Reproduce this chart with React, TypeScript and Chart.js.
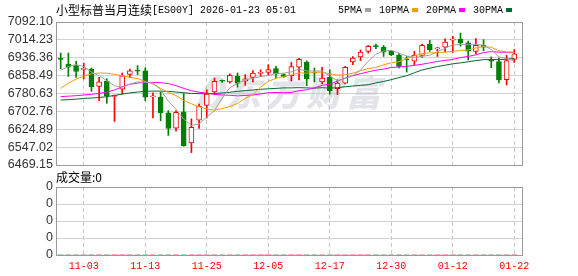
import { useEffect, useRef } from "react";
import { Chart, registerables } from "chart.js";

Chart.register(...registerables);

// ---------------- data ----------------
const dates = [
  "10-29", "10-30", "10-31", "11-03", "11-04", "11-05", "11-06", "11-07", "11-10", "11-11",
  "11-12", "11-13", "11-14", "11-17", "11-18", "11-19", "11-20", "11-21", "11-24", "11-25",
  "11-26", "11-27", "11-28", "12-01", "12-02", "12-03", "12-04", "12-05", "12-08", "12-09",
  "12-10", "12-11", "12-12", "12-15", "12-16", "12-17", "12-18", "12-19", "12-22", "12-23",
  "12-24", "12-26", "12-29", "12-30", "12-31", "01-02", "01-05", "01-06", "01-07", "01-08",
  "01-09", "01-12", "01-13", "01-14", "01-15", "01-16", "01-19", "01-20", "01-21", "01-22",
];

const tickDates = ["11-03", "11-13", "11-25", "12-05", "12-17", "12-30", "01-12", "01-22"];

const yTickLabels = [
  "7092.10", "7014.23", "6936.36", "6858.49", "6780.63",
  "6702.76", "6624.89", "6547.02", "6469.15",
];

const volTickLabels = ["0", "0", "0", "0", "0"];

const opens = [
  6932, 6909, 6902, 6886, 6887, 6812, 6835, 6768, 6799, 6864,
  6882, 6879, 6766, 6765, 6696, 6630, 6701, 6565, 6664, 6729,
  6787, 6836, 6831, 6855, 6834, 6851, 6868, 6873, 6889, 6863,
  6858, 6895, 6916, 6871, 6831, 6851, 6802, 6826, 6918, 6940,
  6964, 6987, 6982, 6964, 6947, 6929, 6921, 6947, 6996, 6975,
  6982, 7013, 7018, 7001, 6964, 6991, 6925, 6920, 6841, 6929,
];
const highs = [
  6957, 6957, 6921, 6913, 6892, 6851, 6845, 6774, 6870, 6887,
  6902, 6892, 6783, 6787, 6706, 6706, 6780, 6670, 6735, 6797,
  6848, 6839, 6866, 6870, 6863, 6880, 6884, 6906, 6899, 6867,
  6916, 6934, 6923, 6892, 6895, 6884, 6841, 6899, 6942, 6970,
  6990, 6996, 6990, 6967, 6957, 6942, 6964, 6996, 7012, 6982,
  7019, 7030, 7044, 7009, 7020, 7015, 6940, 6935, 6947, 6972,
];
const lows = [
  6889, 6855, 6851, 6844, 6790, 6749, 6738, 6659, 6778, 6850,
  6863, 6749, 6674, 6662, 6598, 6616, 6551, 6523, 6628, 6674,
  6776, 6829, 6826, 6808, 6816, 6831, 6855, 6860, 6848, 6851,
  6835, 6840, 6815, 6831, 6822, 6778, 6776, 6822, 6906, 6924,
  6957, 6976, 6942, 6945, 6892, 6874, 6906, 6938, 6964, 6942,
  6961, 6960, 6987, 6927, 6953, 6967, 6893, 6827, 6818, 6916,
];
const closes = [
  6929, 6895, 6877, 6889, 6810, 6831, 6771, 6771, 6858, 6879,
  6878, 6765, 6770, 6696, 6628, 6699, 6553, 6633, 6725, 6778,
  6834, 6834, 6860, 6826, 6845, 6870, 6871, 6885, 6867, 6854,
  6898, 6929, 6845, 6869, 6848, 6793, 6826, 6895, 6935, 6961,
  6986, 6985, 6961, 6950, 6899, 6927, 6947, 6990, 6972, 6977,
  7005, 7016, 7001, 6965, 6991, 6982, 6922, 6840, 6924, 6953,
];

const ma5 = [
  6882, 6898, 6907, 6898, 6874, 6858, 6836, 6814, 6808, 6822,
  6831, 6830, 6826, 6798, 6747, 6712, 6669, 6642, 6648, 6678,
  6705, 6761, 6806, 6826, 6840, 6847, 6854, 6859, 6868, 6869,
  6875, 6887, 6879, 6879, 6878, 6857, 6836, 6846, 6859, 6882,
  6921, 6952, 6966, 6969, 6956, 6944, 6937, 6943, 6947, 6963,
  6978, 6992, 6994, 6993, 6996, 6991, 6972, 6940, 6932, 6924,
];
const ma10 = [
  6803, 6825, 6843, 6856, 6866, 6870, 6869, 6864, 6858, 6851,
  6846, 6833, 6822, 6803, 6785, 6772, 6750, 6736, 6723, 6713,
  6708, 6715, 6724, 6737, 6759, 6776, 6808, 6833, 6847, 6855,
  6861, 6871, 6869, 6873, 6874, 6866, 6861, 6862, 6869, 6880,
  6889, 6894, 6906, 6914, 6919, 6933, 6945, 6954, 6958, 6959,
  6961, 6964, 6968, 6970, 6979, 6985, 6982, 6967, 6962, 6960,
];
const ma20 = [
  6767, 6769, 6771, 6774, 6777, 6781, 6787, 6796, 6810, 6821,
  6826, 6829, 6829, 6828, 6824, 6815, 6803, 6793, 6786, 6782,
  6777, 6774, 6773, 6770, 6772, 6774, 6779, 6784, 6785, 6784,
  6785, 6793, 6797, 6805, 6816, 6821, 6835, 6848, 6858, 6867,
  6875, 6882, 6887, 6894, 6896, 6899, 6903, 6908, 6914, 6920,
  6925, 6929, 6937, 6942, 6949, 6959, 6963, 6961, 6960, 6960,
];
const ma30 = [
  6752, 6754, 6756, 6759, 6761, 6763, 6767, 6772, 6778, 6783,
  6787, 6790, 6791, 6791, 6790, 6787, 6784, 6781, 6780, 6780,
  6781, 6783, 6786, 6790, 6793, 6796, 6799, 6801, 6803, 6805,
  6805, 6806, 6805, 6804, 6806, 6804, 6806, 6810, 6813, 6816,
  6819, 6827, 6833, 6841, 6850, 6858, 6871, 6883, 6891, 6898,
  6904, 6910, 6914, 6919, 6924, 6928, 6929, 6928, 6930, 6933,
];
const volumes = [
  0, 0, 0, 0, 0, 0, 0, 0, 0, 0,
  0, 0, 0, 0, 0, 0, 0, 0, 0, 0,
  0, 0, 0, 0, 0, 0, 0, 0, 0, 0,
  0, 0, 0, 0, 0, 0, 0, 0, 0, 0,
  0, 0, 0, 0, 0, 0, 0, 0, 0, 0,
  0, 0, 0, 0, 0, 0, 0, 0, 0, 0,
];

const titleCn = "小型标普当月连续";
const titleEn = "[ES00Y] 2026-01-23 05:01";
const maNames = ["5PMA", "10PMA", "20PMA", "30PMA"];
const volTitle = "成交量:0";
const watermark = "东方财富";

// ---------------- styles ----------------
const RED = "#ff0000";
const GREEN = "#008000";
const MA_COLORS = ["#a0a0a0", "#f0a000", "#ff00ff", "#006a30"];
const BORDER = "#9a9a9a";
const GRID = "#d2d2d2";
const VGRID = "#c8c8c8";
const W = 578;
const MAIN_H = 190;
const VOL_TOP = 168;
const VOL_H = 276 - VOL_TOP;
const X_MIN = -0.61;
const X_MAX = 60;
const MONO = '"Liberation Mono", "DejaVu Sans Mono", monospace';
const CJK = '"Noto Sans CJK SC", sans-serif';
const SANS = '"Liberation Sans", Arial, sans-serif';

const tickIdx = tickDates.map((d) => dates.indexOf(d));

const boxPlugin = {
  id: "box",
  afterDraw(chart: any) {
    const { ctx, chartArea: a } = chart;
    ctx.save();
    ctx.strokeStyle = BORDER;
    ctx.lineWidth = 1;
    ctx.strokeRect(
      Math.round(a.left) + 0.5,
      Math.round(a.top) + 0.5,
      Math.round(a.right - a.left),
      Math.round(a.bottom - a.top)
    );
    ctx.restore();
  },
};

const headerPlugin = {
  id: "header",
  afterDraw(chart: any) {
    const ctx = chart.ctx;
    ctx.save();
    ctx.textBaseline = "middle";
    ctx.fillStyle = "#000";
    ctx.font = `12px ${CJK}`;
    let x = 56;
    ctx.fillText(titleCn, x, 10);
    x += ctx.measureText(titleCn).width;
    ctx.font = `10px ${MONO}`;
    ctx.fillText(titleEn, x, 10);
    let lx = 338;
    maNames.forEach((n, i) => {
      ctx.fillStyle = "#000";
      ctx.fillText(n, lx, 10);
      lx += ctx.measureText(n).width + 3;
      ctx.fillStyle = MA_COLORS[i];
      ctx.fillRect(lx, 8, 6, 4);
      lx += 6 + 8;
    });
    ctx.restore();
  },
};

const watermarkPlugin = {
  id: "watermark",
  beforeDatasetsDraw(chart: any) {
    const ctx = chart.ctx;
    ctx.save();
    ctx.fillStyle = "rgba(185,190,202,0.42)";
    ctx.font = `italic 900 35px ${CJK}`;
    ctx.textBaseline = "middle";
    const chars = Array.from(watermark);
    chars.forEach((c, k) => {
      ctx.fillText(c, 226 + k * 40, 93);
    });
    // simple stylised logo mark before the characters
    ctx.lineWidth = 6;
    ctx.strokeStyle = "rgba(185,190,202,0.42)";
    ctx.beginPath();
    ctx.moveTo(200, 105);
    ctx.quadraticCurveTo(214, 70, 222, 82);
    ctx.quadraticCurveTo(226, 96, 212, 108);
    ctx.stroke();
    ctx.restore();
  },
};

const volTextPlugin = {
  id: "voltext",
  afterDraw(chart: any) {
    const ctx = chart.ctx;
    ctx.save();
    ctx.textBaseline = "middle";
    ctx.fillStyle = "#000";
    ctx.font = `12px ${CJK}`;
    ctx.fillText(volTitle, 56, 177 - VOL_TOP);
    ctx.restore();
  },
};

function lineDs(label: string, values: number[], color: string) {
  return {
    type: "line" as const,
    label,
    data: values.map((v, i) => ({ x: i, y: v })),
    borderColor: color,
    backgroundColor: color,
    borderWidth: 1,
    pointRadius: 0,
    tension: 0,
    order: 0,
  };
}

export default function App() {
  const mainRef = useRef<HTMLCanvasElement | null>(null);
  const volRef = useRef<HTMLCanvasElement | null>(null);

  useEffect(() => {
    const isUp = closes.map((c, i) => c >= opens[i]);
    const yTickValues = yTickLabels.map(Number).sort((a, b) => a - b);

    const xCommon = {
      type: "linear" as const,
      min: X_MIN,
      max: X_MAX,
      offset: false,
      afterBuildTicks: (ax: any) => {
        ax.ticks = tickIdx.map((v) => ({ value: v }));
      },
      grid: { color: VGRID, drawTicks: false, offset: false },
      border: { display: false, dash: [4, 3] },
    };

    const main = new Chart(mainRef.current as HTMLCanvasElement, {
      type: "bar",
      data: {
        datasets: [
          lineDs(maNames[0], ma5, MA_COLORS[0]),
          lineDs(maNames[1], ma10, MA_COLORS[1]),
          lineDs(maNames[2], ma20, MA_COLORS[2]),
          lineDs(maNames[3], ma30, MA_COLORS[3]),
          {
            type: "bar",
            label: "body",
            data: opens.map((o, i) => ({ x: i, y: [o, closes[i]] })) as any,
            backgroundColor: isUp.map((u) => (u ? "#ffffff" : GREEN)),
            borderColor: isUp.map((u) => (u ? RED : GREEN)),
            borderWidth: 1,
            borderSkipped: false,
            barThickness: 5,
            minBarLength: 1,
            grouped: false,
            order: 5,
          } as any,
          {
            type: "bar",
            label: "wick",
            data: lows.map((l, i) => ({ x: i, y: [l, highs[i]] })) as any,
            backgroundColor: isUp.map((u) => (u ? RED : GREEN)),
            borderWidth: 0,
            barThickness: 1,
            grouped: false,
            order: 6,
          } as any,
        ],
      },
      options: {
        responsive: false,
        animation: false,
        events: [],
        layout: { padding: { top: 22, right: W - 522, bottom: MAIN_H - 165, left: 0 } },
        plugins: { legend: { display: false }, tooltip: { enabled: false }, title: { display: false } },
        scales: {
          x: {
            ...xCommon,
            afterFit: (ax: any) => {
              ax.height = 0;
            },
            ticks: { display: false },
          } as any,
          y: {
            type: "linear",
            min: 6469.15,
            max: 7092.1,
            afterBuildTicks: (ax: any) => {
              ax.ticks = yTickValues.map((v) => ({ value: v }));
            },
            afterFit: (ax: any) => {
              ax.width = 56;
            },
            ticks: {
              autoSkip: false,
              padding: 3,
              color: "#333",
              font: { family: SANS, size: 12.5 },
              callback: (v: any) =>
                yTickLabels.find((l) => Math.abs(Number(l) - Number(v)) < 0.001) ?? "",
            },
            grid: { color: GRID, drawTicks: false },
            border: { display: false },
          },
        },
      },
      plugins: [watermarkPlugin, boxPlugin, headerPlugin],
    });

    const vol = new Chart(volRef.current as HTMLCanvasElement, {
      type: "bar",
      data: {
        datasets: [
          {
            label: "成交量",
            data: volumes.map((v, i) => ({ x: i, y: v })) as any,
            backgroundColor: isUp.map((u) => (u ? RED : GREEN)),
            barThickness: 5,
          },
        ],
      },
      options: {
        responsive: false,
        animation: false,
        events: [],
        layout: { padding: { top: 187 - VOL_TOP, right: W - 522, bottom: 0, left: 0 } },
        plugins: { legend: { display: false }, tooltip: { enabled: false } },
        scales: {
          x: {
            ...xCommon,
            afterFit: (ax: any) => {
              ax.height = 276 - 255;
            },
            ticks: {
              autoSkip: false,
              maxRotation: 0,
              padding: 5,
              color: RED,
              font: { family: MONO, size: 10 },
              callback: (v: any) => dates[Math.round(Number(v))] ?? "",
            },
          } as any,
          y: {
            type: "linear",
            min: 0,
            max: 4,
            afterBuildTicks: (ax: any) => {
              ax.ticks = volTickLabels.map((_, k) => ({ value: k }));
            },
            afterFit: (ax: any) => {
              ax.width = 56;
            },
            ticks: {
              autoSkip: false,
              padding: 3,
              color: "#333",
              font: { family: SANS, size: 12.5 },
              callback: (_v: any, k: number) => volTickLabels[k],
            },
            grid: { color: GRID, drawTicks: false },
            border: { display: false },
          },
        },
      },
      plugins: [boxPlugin, volTextPlugin],
    });

    return () => {
      main.destroy();
      vol.destroy();
    };
  }, []);

  return (
    <div style={{ position: "absolute", left: 0, top: 0, width: W, height: 276, background: "#fff", overflow: "hidden" }}>
      <canvas ref={mainRef} width={W} height={MAIN_H} style={{ position: "absolute", left: 0, top: 0 }} />
      <canvas ref={volRef} width={W} height={VOL_H} style={{ position: "absolute", left: 0, top: VOL_TOP }} />
    </div>
  );
}
